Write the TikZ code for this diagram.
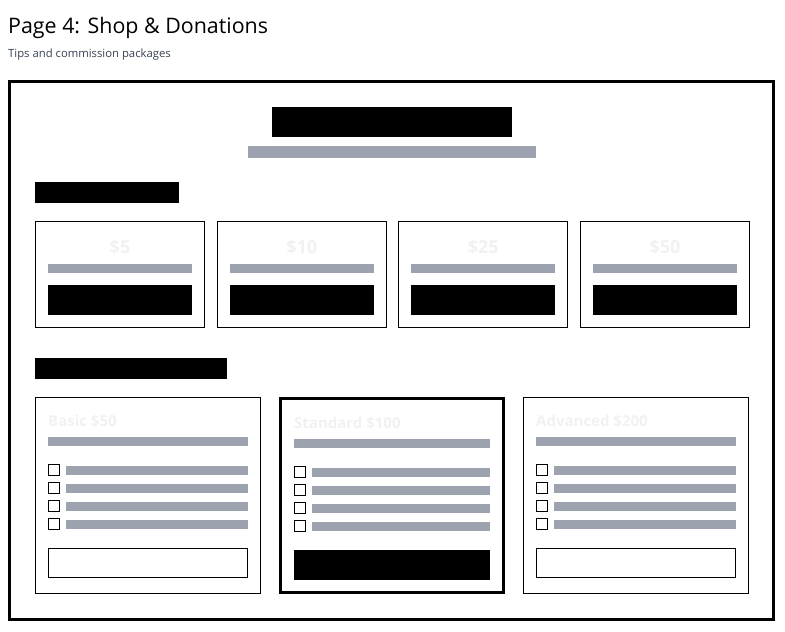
\documentclass[tikz,border=0pt]{standalone}
\usepackage{fontspec}
\setmainfont{Open Sans}
\definecolor{barc}{RGB}{156,163,175}
\definecolor{subc}{RGB}{55,65,81}
\definecolor{ghost}{RGB}{241,241,243}
\begin{document}
\begin{tikzpicture}[x=1pt,y=-1pt,
  thinbox/.style={draw=black,line width=1pt},
  thickbox/.style={draw=black,line width=3pt},
  greybar/.style={fill=barc},
  blackbar/.style={fill=black},
  ghosttext/.style={text=ghost,inner sep=0pt,font=\bfseries\fontsize{#1}{#1}\selectfont},
  ghosttext/.default=15]
\useasboundingbox (0,0) rectangle (785,632);
\node[anchor=base west,inner sep=0pt,font=\fontsize{21.4}{26}\selectfont] (title) at (8,33) {Page 4: Shop \& Donations};
\node[anchor=base west,inner sep=0pt,text=subc,font=\fontsize{11.3}{14}\selectfont] (subtitle) at (8,57) {Tips and commission packages};
% outer frame
\draw[thickbox] (9.5,81.5) rectangle (773.5,619.5);
% header
\fill[blackbar] (272,107) rectangle (512,137);
\fill[greybar] (248,146) rectangle (536,158);
% section bars
\fill[blackbar] (35,182) rectangle (179,203);
\fill[blackbar] (35,358) rectangle (227,379);
% tip cards
\foreach \i/\t in {0/5,1/10,2/25,3/50}{
  \pgfmathsetmacro\x{35+181.67*\i}
  \draw[thinbox] (\x+0.5,221.5) rectangle (\x+169.5,327);
  \node[ghosttext=18,anchor=base] (tip\i) at (\x+85,253) {\$\t};
  \fill[greybar] (\x+13,264) rectangle (\x+157,273);
  \fill[blackbar] (\x+13,285) rectangle (\x+157,315);
}
% package cards
\draw[thinbox] (35.5,397.5) rectangle (260.5,593.5);
\draw[thickbox] (280.5,398.5) rectangle (503.5,592.5);
\draw[thinbox] (523.5,397.5) rectangle (748.5,593.5);
\foreach \n/\ix/\iw/\ty/\lab in {basic/48/200/0/Basic \$50, std/294/196/2/Standard \$100, adv/536/200/0/Advanced \$200}{
  \node[ghosttext=15,anchor=base west] (\n title) at (\ix,426+\ty) {\lab};
  \fill[greybar] (\ix,437+\ty) rectangle (\ix+\iw,446+\ty);
  \foreach \r in {0,1,2,3}{
    \draw[thinbox] (\ix+0.5,464.5+\ty+18*\r) rectangle (\ix+11.5,475.5+\ty+18*\r);
    \fill[greybar] (\ix+18,466+\ty+18*\r) rectangle (\ix+\iw,475+\ty+18*\r);
  }
}
\draw[thinbox] (48.5,548.5) rectangle (247.5,577.5);
\fill[blackbar] (294,550) rectangle (490,580);
\draw[thinbox] (536.5,548.5) rectangle (735.5,577.5);
\end{tikzpicture}
\end{document}
